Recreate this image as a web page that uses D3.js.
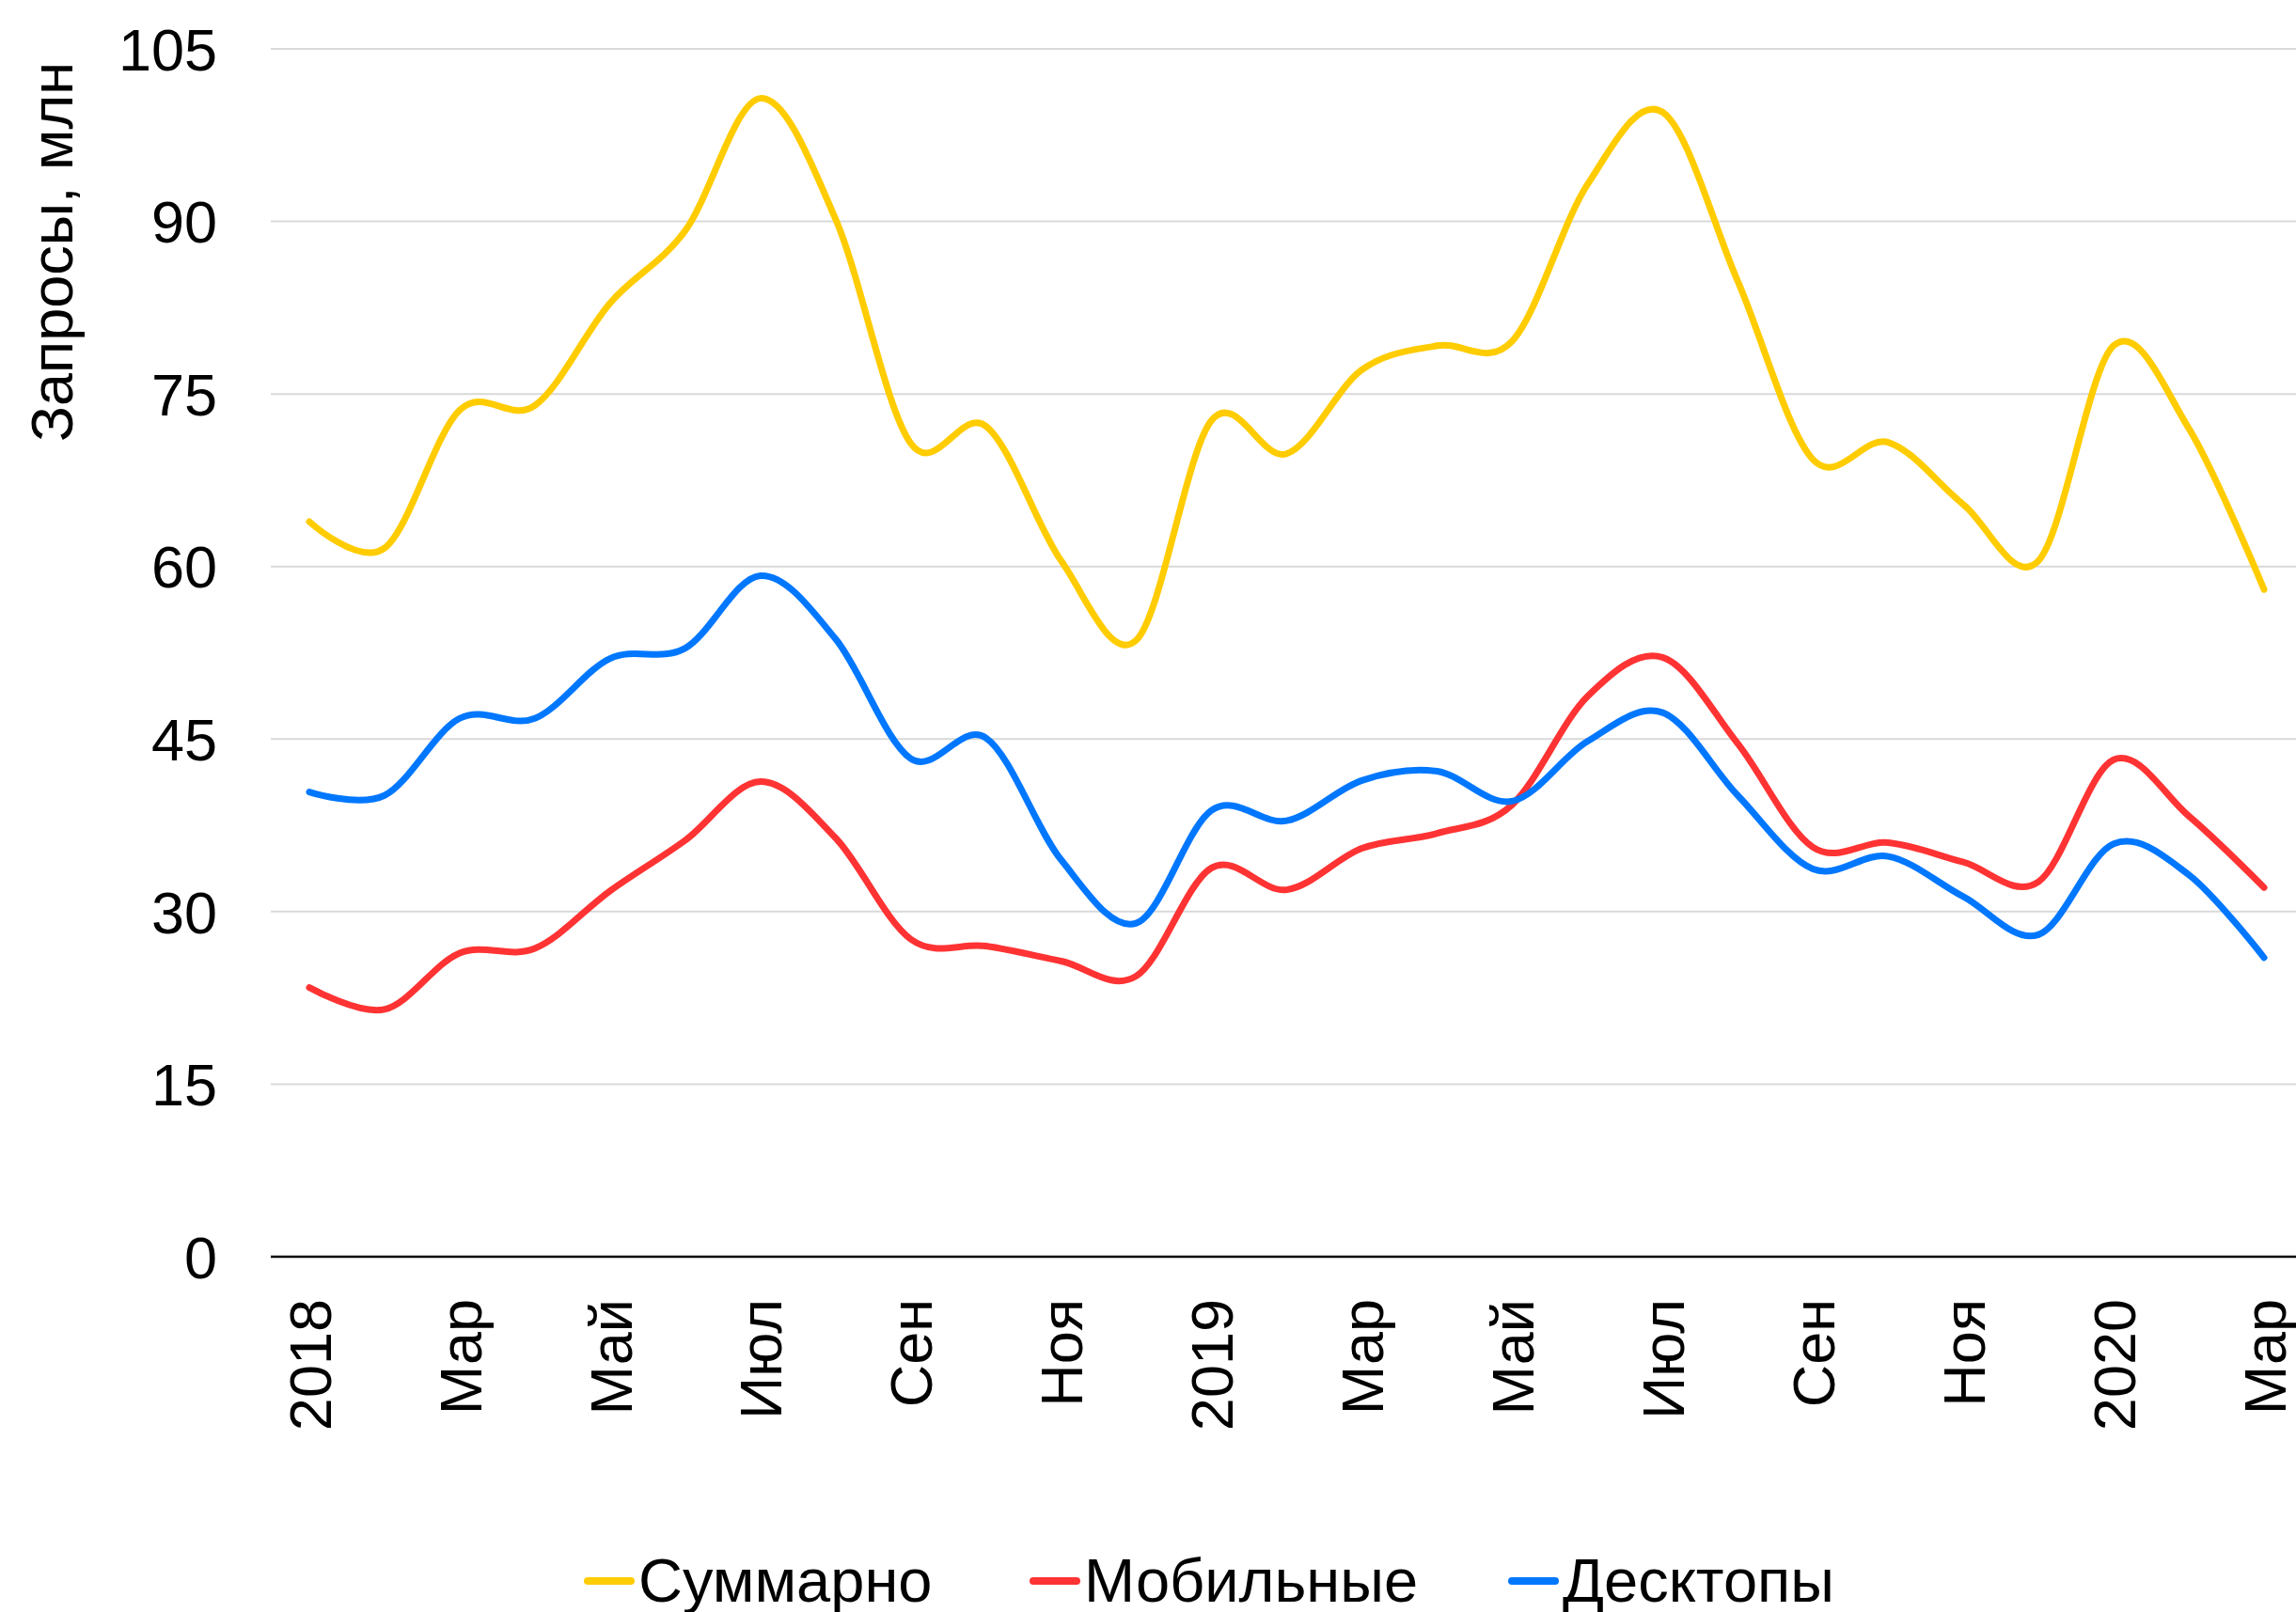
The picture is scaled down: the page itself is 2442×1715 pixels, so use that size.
<!DOCTYPE html>
<html>
<head>
    <meta charset="utf-8">
    <style>
        body { margin: 0; background: white; }
        svg { display: block; font-family: 'Liberation Sans', Arial, sans-serif; }
    </style>
</head>
<body>
    <svg width="2442" height="1715"></svg>

<script src="https://d3js.org/d3.v7.min.js"></script>
<script>
    // months Jan 2018 .. Mar 2020, label every second one
    let months = d3.range(27)
    let tickLabels = ["2018", "Мар", "Май", "Июл", "Сен", "Ноя", "2019", "Мар", "Май", "Июл", "Сен", "Ноя", "2020", "Мар"]
    let yTicks = [0, 15, 30, 45, 60, 75, 90, 105]

    let total = [63.9, 61.6, 73.6, 74.0, 82.9, 89.2, 100.7, 90.2, 70.7, 72.2, 60.5, 53.6,
                 72.7, 69.8, 77.1, 79.2, 79.6, 93.2, 99.5, 84.8, 69.3, 70.8, 65.4, 60.5,
                 79.2, 72.0, 58.0]
    let mobile = [23.4, 21.5, 26.4, 26.8, 31.8, 36.2, 41.3, 36.4, 27.6, 27.0, 25.7, 24.4,
                  33.8, 31.9, 35.5, 36.8, 39.3, 48.7, 52.1, 44.6, 35.6, 36.0, 34.3, 32.6,
                  43.2, 38.3, 32.1]
    let desktop = [40.4, 40.1, 46.8, 46.8, 52.0, 52.9, 59.2, 53.7, 43.3, 45.1, 34.5, 29.0,
                   38.8, 37.9, 41.4, 42.2, 39.6, 44.8, 47.3, 40.1, 33.7, 34.8, 31.3, 28.0,
                   35.9, 33.2, 26.0]

    let seriesNames = ["Суммарно", "Мобильные", "Десктопы"]
    let seriesColors = ["#ffcc00", "#ff3333", "#0077ff"]
    let series = [total, mobile, desktop]

    let svg = d3.select("svg")

    let x = d3.scalePoint().domain(months).range([329, 2408])
    let y = d3.scaleLinear().domain([0, 105]).range([1337, 52])

    // gridlines
    svg.append("g")
        .selectAll("line")
        .data(yTicks.filter(d => d > 0))
        .join("line")
        .attr("x1", 288).attr("x2", 2442)
        .attr("y1", d => y(d)).attr("y2", d => y(d))
        .attr("stroke", "#d9d9d9")
        .attr("stroke-width", 2)

    // y tick labels
    svg.append("g")
        .selectAll("text")
        .data(yTicks)
        .join("text")
        .attr("x", 231)
        .attr("y", d => y(d))
        .attr("dy", "0.36em")
        .attr("text-anchor", "end")
        .attr("font-size", 63)
        .text(d => d)

    // y title
    svg.append("text")
        .attr("transform", "translate(77,268) rotate(-90)")
        .attr("text-anchor", "middle")
        .attr("font-size", 63)
        .text("Запросы, млн")

    // lines
    let line = d3.line()
        .x((d, i) => x(i))
        .y(d => y(d))
        .curve(d3.curveCardinal.tension(0))

    svg.append("g")
        .selectAll("path")
        .data(series)
        .join("path")
        .attr("d", line)
        .attr("fill", "none")
        .attr("stroke", (d, i) => seriesColors[i])
        .attr("stroke-width", 7)
        .attr("stroke-linecap", "round")
        .attr("stroke-linejoin", "round")

    // x axis line
    svg.append("line")
        .attr("x1", 288).attr("x2", 2442)
        .attr("y1", y(0)).attr("y2", y(0))
        .attr("stroke", "#000")
        .attr("stroke-width", 2.5)

    // x tick labels
    svg.append("g")
        .selectAll("text")
        .data(tickLabels)
        .join("text")
        .attr("transform", (d, i) => "translate(" + x(i * 2) + ",1382) rotate(-90)")
        .attr("dy", "0.36em")
        .attr("text-anchor", "end")
        .attr("font-size", 63)
        .text(d => d)

    // legend
    let legendX = [621, 1095, 1604]
    let legend = svg.append("g")
        .selectAll("g")
        .data(seriesNames)
        .join("g")
        .attr("transform", (d, i) => "translate(" + legendX[i] + ",1682)")

    legend.append("line")
        .attr("x1", 4).attr("x2", 50)
        .attr("stroke", (d, i) => seriesColors[i])
        .attr("stroke-width", 8)
        .attr("stroke-linecap", "round")

    legend.append("text")
        .attr("x", 58)
        .attr("y", 22)
        .attr("font-size", 65)
        .text(d => d)
</script>
</body>
</html>
